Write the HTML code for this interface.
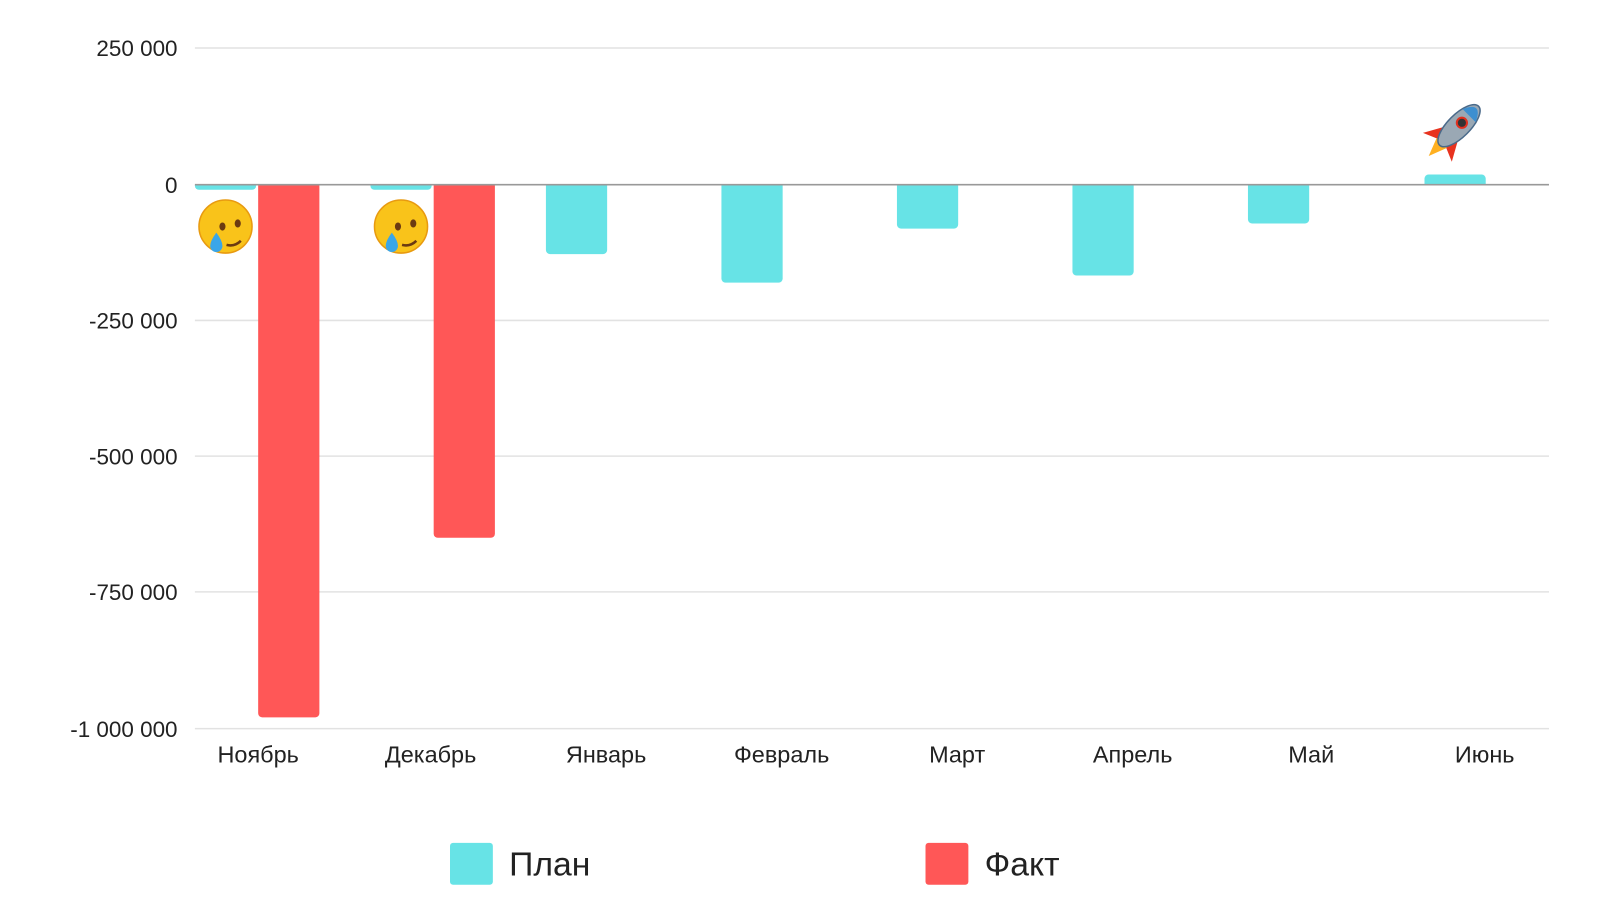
<!DOCTYPE html>
<html><head><meta charset="utf-8"><style>
html,body{margin:0;padding:0;background:#fff;}
svg{display:block;font-family:"Liberation Sans",sans-serif;}
</style></head><body>
<svg width="1600" height="898" viewBox="0 0 1568 880" preserveAspectRatio="none" xmlns="http://www.w3.org/2000/svg">
<g stroke="#e2e2e2" stroke-width="1.5">
<line x1="191" y1="47" x2="1518" y2="47"/>
<line x1="191" y1="314" x2="1518" y2="314"/>
<line x1="191" y1="447" x2="1518" y2="447"/>
<line x1="191" y1="580" x2="1518" y2="580"/>
<line x1="191" y1="714" x2="1518" y2="714"/>
</g>
<g font-size="22" fill="#222" text-anchor="end">
<text x="174" y="55">250 000</text>
<text x="174" y="189">0</text>
<text x="174" y="322">-250 000</text>
<text x="174" y="455">-500 000</text>
<text x="174" y="588">-750 000</text>
<text x="174" y="722">-1 000 000</text>
</g>
<g fill="#67e3e6">
<path d="M191 181h60v1a4 4 0 0 1-4 4h-52a4 4 0 0 1-4-4z"/>
<path d="M363 181h60v1a4 4 0 0 1-4 4h-52a4 4 0 0 1-4-4z"/>
<path d="M535 181h60v64a4 4 0 0 1-4 4h-52a4 4 0 0 1-4-4z"/>
<path d="M707 181h60v92a4 4 0 0 1-4 4h-52a4 4 0 0 1-4-4z"/>
<path d="M879 181h60v39a4 4 0 0 1-4 4h-52a4 4 0 0 1-4-4z"/>
<path d="M1051 181h60v85a4 4 0 0 1-4 4h-52a4 4 0 0 1-4-4z"/>
<path d="M1223 181h60v34a4 4 0 0 1-4 4h-52a4 4 0 0 1-4-4z"/>
<path d="M1396 181v-6a4 4 0 0 1 4-4h52a4 4 0 0 1 4 4v6z"/>
</g>
<g fill="#ff5757">
<path d="M253 181h60v518a4 4 0 0 1-4 4h-52a4 4 0 0 1-4-4z"/>
<path d="M425 181h60v342a4 4 0 0 1-4 4h-52a4 4 0 0 1-4-4z"/>
</g>
<line x1="191" y1="181" x2="1518" y2="181" stroke="#999" stroke-width="1.5"/>
<g font-size="23" fill="#222" text-anchor="middle">
<text x="253" y="747">Ноябрь</text>
<text x="422" y="747">Декабрь</text>
<text x="594" y="747">Январь</text>
<text x="766" y="747">Февраль</text>
<text x="938" y="747">Март</text>
<text x="1110" y="747">Апрель</text>
<text x="1285" y="747">Май</text>
<text x="1455" y="747">Июнь</text>
</g>
<g id="f">
<circle cx="221" cy="222" r="26" fill="#f9c31a" stroke="#e89a10" stroke-width="1.5"/>
<ellipse cx="218" cy="222" rx="3" ry="4" fill="#6b3a12"/>
<ellipse cx="233" cy="219" rx="3" ry="4" fill="#6b3a12"/>
<path d="M222 240q8 2 14-4" stroke="#6b3a12" stroke-width="2.5" fill="none"/>
<path d="M212 228q-6 8-6 13a6 6 0 0 0 12 0q0-5-6-13z" fill="#3aa6e8"/>
</g>
<use href="#f" x="172"/>
<g transform="translate(1427,126) rotate(45)">
<path d="M-10 8 L-20 26 L-6 20 Z" fill="#e8331f"/>
<path d="M10 8 L20 26 L6 20 Z" fill="#e8331f"/>
<path d="M-7 20 L0 38 L7 20 Z" fill="#ffb020"/>
<ellipse cx="0" cy="-4" rx="11" ry="27" fill="#9aa8b4" stroke="#4a6a8a" stroke-width="1.5"/>
<path d="M-9 -18 Q0 -38 9 -18 Z" fill="#3d8fd0"/>
<circle cx="0" cy="-8" r="5" fill="#333" stroke="#e0301e" stroke-width="2"/>
</g>
<rect x="441" y="826" width="42" height="41" rx="3" fill="#67e3e6"/>
<text x="499" y="858" font-size="33" fill="#222">План</text>
<rect x="907" y="826" width="42" height="41" rx="3" fill="#ff5757"/>
<text x="965" y="858" font-size="33" fill="#222">Факт</text>
</svg>
</body></html>
